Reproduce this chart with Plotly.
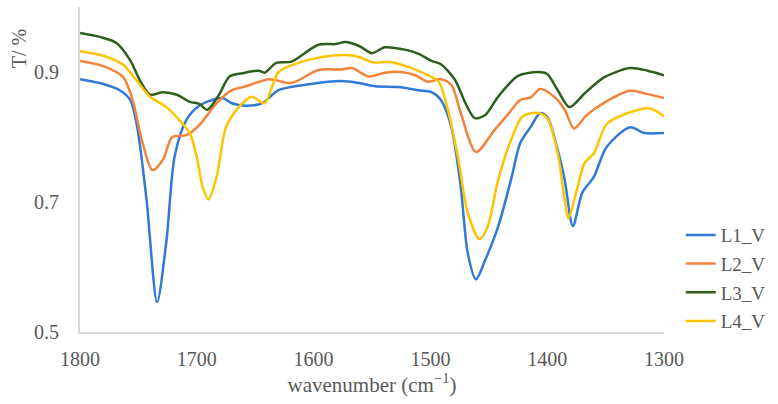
import plotly.graph_objects as go

# wavenumber (cm-1) and transmittance values
l1_x = [1800, 1783, 1766, 1757, 1751, 1743, 1734, 1726, 1719, 1709, 1698, 1687, 1678, 1670, 1658, 1644, 1630, 1604, 1576, 1561, 1547, 1527, 1510, 1499, 1491, 1482, 1474, 1468, 1461, 1453, 1442, 1431, 1423, 1414, 1406, 1400, 1391, 1385, 1378, 1370, 1360, 1349, 1329, 1317, 1300]
l1_y = [0.889, 0.883, 0.872, 0.857, 0.815, 0.703, 0.546, 0.640, 0.770, 0.826, 0.848, 0.857, 0.860, 0.852, 0.848, 0.852, 0.872, 0.881, 0.886, 0.883, 0.878, 0.877, 0.872, 0.869, 0.857, 0.815, 0.723, 0.621, 0.581, 0.611, 0.662, 0.734, 0.791, 0.816, 0.837, 0.831, 0.780, 0.734, 0.663, 0.714, 0.739, 0.785, 0.815, 0.806, 0.806]

l2_x = [1800, 1780, 1763, 1755, 1747, 1738, 1729, 1721, 1709, 1698, 1683, 1670, 1658, 1638, 1619, 1596, 1576, 1567, 1553, 1539, 1525, 1513, 1502, 1491, 1482, 1474, 1461, 1445, 1434, 1423, 1414, 1406, 1394, 1385, 1377, 1366, 1351, 1329, 1314, 1300]
l2_y = [0.917, 0.909, 0.892, 0.857, 0.795, 0.749, 0.765, 0.800, 0.803, 0.818, 0.852, 0.872, 0.878, 0.889, 0.883, 0.903, 0.904, 0.906, 0.893, 0.899, 0.900, 0.895, 0.885, 0.889, 0.880, 0.837, 0.777, 0.811, 0.834, 0.857, 0.861, 0.874, 0.862, 0.842, 0.813, 0.834, 0.853, 0.871, 0.866, 0.860]

l3_x = [1800, 1783, 1769, 1757, 1749, 1740, 1729, 1717, 1706, 1698, 1691, 1681, 1672, 1661, 1647, 1642, 1632, 1619, 1596, 1581, 1573, 1561, 1550, 1539, 1521, 1510, 1499, 1491, 1479, 1470, 1462, 1453, 1442, 1425, 1408, 1400, 1391, 1381, 1368, 1351, 1329, 1314, 1300]
l3_y = [0.960, 0.954, 0.945, 0.918, 0.888, 0.865, 0.869, 0.865, 0.854, 0.851, 0.842, 0.865, 0.893, 0.898, 0.902, 0.899, 0.914, 0.916, 0.942, 0.943, 0.946, 0.940, 0.929, 0.938, 0.934, 0.928, 0.917, 0.912, 0.888, 0.852, 0.829, 0.834, 0.862, 0.894, 0.900, 0.897, 0.872, 0.846, 0.867, 0.892, 0.906, 0.902, 0.895]

l4_x = [1800, 1780, 1763, 1752, 1740, 1726, 1715, 1706, 1700, 1695, 1690, 1683, 1675, 1664, 1653, 1642, 1630, 1613, 1593, 1573, 1561, 1550, 1533, 1516, 1502, 1493, 1485, 1476, 1468, 1458, 1451, 1442, 1431, 1421, 1408, 1400, 1391, 1385, 1382, 1374, 1368, 1360, 1349, 1329, 1312, 1300]
l4_y = [0.932, 0.925, 0.911, 0.888, 0.862, 0.846, 0.826, 0.806, 0.769, 0.723, 0.704, 0.739, 0.815, 0.846, 0.862, 0.852, 0.900, 0.914, 0.923, 0.926, 0.923, 0.915, 0.915, 0.906, 0.895, 0.885, 0.842, 0.765, 0.683, 0.643, 0.662, 0.734, 0.795, 0.832, 0.837, 0.829, 0.775, 0.703, 0.675, 0.723, 0.760, 0.775, 0.820, 0.838, 0.844, 0.832]

names = ["L1_V", "L2_V", "L3_V", "L4_V"]
colors = ["#2E7AD6", "#F5823B", "#2F5F1E", "#FFC400"]
xs = [l1_x, l2_x, l3_x, l4_x]
ys = [l1_y, l2_y, l3_y, l4_y]

FONT = "Palatino Linotype, Book Antiqua, Liberation Serif, DejaVu Serif, serif"
GRAY = "#595959"

fig = go.Figure()
for i in range(4):
    fig.add_trace(go.Scatter(
        x=xs[i], y=ys[i], mode="lines", name=names[i],
        line=dict(color=colors[i], width=2.5, shape="spline", smoothing=0.8),
        legendgroup=names[i],
    ))

fig.update_layout(
    width=778, height=404,
    margin=dict(l=80, r=111, t=7, b=72),
    paper_bgcolor="white", plot_bgcolor="white",
    font=dict(family=FONT, color=GRAY, size=19),
    showlegend=True,
    legend=dict(x=1.0287, y=0.166, xanchor="left", yanchor="middle",
                font=dict(family=FONT, size=19, color=GRAY),
                tracegroupgap=1, bgcolor="rgba(0,0,0,0)"),
    xaxis=dict(range=[1800, 1300], tickvals=[1800, 1700, 1600, 1500, 1400, 1300],
               showgrid=False, zeroline=False, showline=True, linecolor="#D9D9D9",
               linewidth=2, ticks="", tickfont=dict(size=20, color=GRAY), ticklabelstandoff=8,
               title=dict(text="wavenumber (cm<sup>−1</sup>)", font=dict(size=21, color=GRAY), standoff=6)),
    yaxis=dict(range=[0.5, 1.0], tickvals=[0.5, 0.7, 0.9], ticktext=["0.5", "0.7", "0.9"],
               showgrid=False, zeroline=False, showline=True, linecolor="#D9D9D9",
               linewidth=2, ticks="", tickfont=dict(size=20, color=GRAY), ticklabelstandoff=15),
)

fig.add_annotation(text="T/ %", xref="paper", yref="paper", showarrow=False,
                   x=(19 - 80) / 587, y=1 - (49 - 7) / 325,
                   xanchor="center", yanchor="middle",
                   textangle=-90, font=dict(family=FONT, size=20, color=GRAY))

fig.write_html("out.html")
